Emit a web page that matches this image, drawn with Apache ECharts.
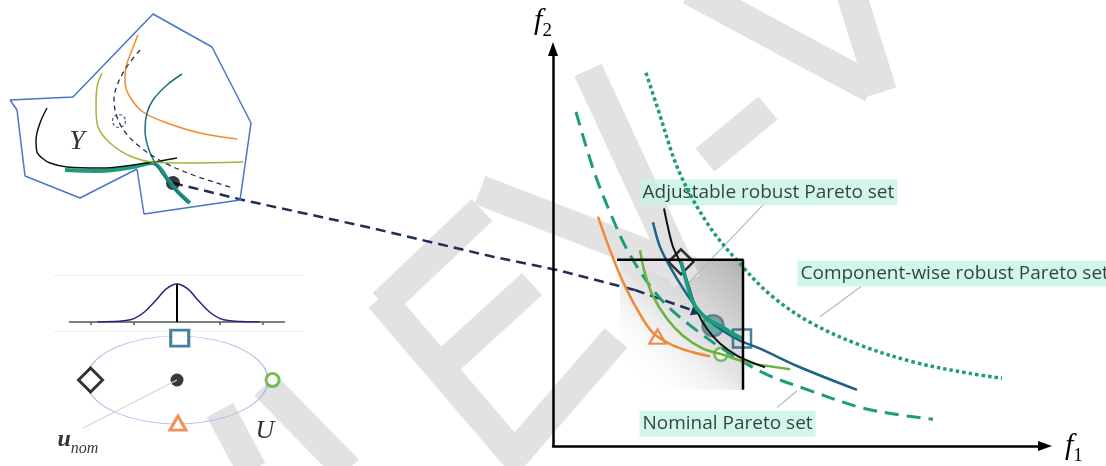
<!DOCTYPE html>
<html><head><meta charset="utf-8">
<script src="https://cdn.jsdelivr.net/npm/echarts@6/dist/echarts.min.js"></script>
<style>html,body{margin:0;padding:0;background:#fff}#c{width:1106px;height:466px}</style>
</head><body><div id="c"></div>
<script>
// ---------- main objective space (f1, f2) ----------
const componentWiseSet = [[1.86,9.24],[2.10,8.34],[2.52,6.80],[3.10,5.49],[3.74,4.51],[4.38,3.71],[5.16,3.05],[6.16,2.49],[7.24,2.07],[8.32,1.80],[8.98,1.68]];
const nominalSet = [[0.46,8.27],[0.82,6.80],[1.16,5.73],[1.54,4.73],[2.14,3.66],[2.80,2.93],[3.54,2.29],[4.26,1.78],[5.10,1.39],[6.16,0.95],[6.88,0.78],[7.60,0.66]];
const orangeFront = [[0.90,5.68],[1.14,4.85],[1.38,4.12],[1.68,3.39],[2.00,2.80],[2.40,2.49],[2.80,2.32],[3.14,2.22]];
const greenFront = [[1.74,4.85],[1.84,4.27],[2.00,3.71],[2.28,3.15],[2.60,2.73],[3.00,2.41],[3.38,2.27],[3.88,2.07],[4.74,1.90]];
const blueFront = [[2.00,5.54],[2.14,4.93],[2.34,4.44],[2.54,4.02],[2.80,3.54],[3.08,3.15],[3.34,2.90],[3.74,2.61],[4.14,2.41],[4.94,1.95],[6.08,1.39]];
const blackFront = [[2.22,5.88],[2.30,5.41],[2.40,4.93],[2.54,4.56],[2.70,4.02],[2.88,3.34],[3.08,2.90],[3.34,2.54],[3.68,2.24],[3.98,2.07],[4.24,1.95]];
const adjustableSet = [[2.56,4.56],[2.68,4.02],[2.78,3.63],[2.88,3.39],[3.08,3.15],[3.34,2.98],[3.60,2.78],[3.78,2.66]];
const boxCorner = [3.80, 4.61];
const boxLeft = 1.28, boxBottom = 1.39;
const diamondPt = [2.56,4.56], squarePt = [3.78,2.66], greenPt = [3.36,2.27], trianglePt = [2.09,2.71], nominalPt = [3.20,2.98];
const labelTexts = ['Adjustable robust Pareto set','Component-wise robust Pareto set','Nominal Pareto set'];
const labelPos = [[1.72,6.28],[4.88,4.27],[1.72,0.55]];
const leaderLines = [[[4.24,6.02],[2.70,4.02]],[[6.16,3.95],[5.34,3.20]],[[4.88,1.37],[4.48,0.95]]];

// ---------- decision space Y (canvas-scaled coordinates) ----------
const yPolygon = [[10,100],[73,97],[153,14],[212,47],[251,123],[240,200],[144,214],[137,169],[80,198],[25,176],[17,110],[10,100]];
const yBlack = [[47,108],[40,123],[36,140],[37,152],[42,158],[50,163],[67,167],[100,168],[140,164],[177,158]];
const yTealThick = [[65,170],[100,171],[133,167],[152,163],[160,168],[168,180],[178,192],[190,203]];
const yTealThin = [[182,74],[167,85],[153,100],[147,113],[145,130],[148,147],[155,163],[167,180],[188,203]];
const yGreen = [[102,73],[97,87],[96,107],[98,127],[110,143],[130,156],[153,162],[187,163],[243,162]];
const yOrange = [[138,35],[132,50],[126,67],[125,82],[130,97],[143,112],[167,123],[200,133],[237,139]];
const yDashed = [[140,50],[128,65],[118,83],[114,100],[117,117],[125,132],[140,147],[163,162],[193,175],[233,188]];
const yDashedCircle = [119,121];
const yPoint = [173,183];
const connectorPath = [[173,183],[243,200],[367,227],[494,257],[557,270],[635,290]];
const connectorEnd = [[635,290],[697,312]];
const panelRules = [[[53,275],[303,275]],[[53,331],[303,331]]];
const watermark = [
  [[690,-10],[872,88]], [[882,92],[850,-10]], [[705,160],[768,108]],
  [[588,70],[686,282]], [[480,190],[692,272]],
  [[380,298],[522,464]], [[383,304],[482,210]], [[440,368],[532,284]], [[512,458],[616,338]],
  [[265,385],[348,470]], [[220,410],[252,470]]
];

// ---------- uncertainty ----------
const gaussCurve = [[-3.7,0],[-3,0.01],[-2.5,0.03],[-2,0.09],[-1.5,0.27],[-1,0.56],[-0.5,0.87],[0,1],[0.5,0.87],[1,0.56],[1.5,0.27],[2,0.09],[2.5,0.03],[3,0.01],[3.85,0]];
const gaussTicks = [-4,-2,2,4];
const gaussCenter = [[0,0],[0,1]];
const uSquare = [0.03,0.95], uDiamond = [-0.95,0.0], uCircle = [1.05,0.0], uTriangle = [0.01,-0.98], uNom = [0,0];
const uLeader = [[0,0],[-1.03,-1.09]];

// ---------- colours ----------
const C = {teal:'#1d9c7c', navy:'#1f2f55', orange:'#ef8a34', green:'#6ab43e', blue:'#1c6285', black:'#111',
  yGreen:'#9bb83c', yBlue:'#1f6e80', poly:'#4876c8', leader:'#a9bccf', mint:'#c6f4e6', wm:'#e2e2e2'};

const serif = 'Liberation Serif';
function line(data, gi, ls, extra) {
  return Object.assign({type:'line', xAxisIndex:gi, yAxisIndex:gi, data:data, symbol:'none', silent:true,
    smooth:0.35, lineStyle:ls}, extra || {});
}

const series = [];
// watermark
series.push({type:'lines', coordinateSystem:'cartesian2d', xAxisIndex:0, yAxisIndex:0, z:1, silent:true,
  data: watermark.map(c => ({coords:c})), lineStyle:{color:C.wm, width:30, opacity:1, cap:'butt'}});
// panel rules
series.push({type:'lines', coordinateSystem:'cartesian2d', xAxisIndex:0, yAxisIndex:0, silent:true,
  data: panelRules.map(c => ({coords:c})), lineStyle:{color:'#f0f0f0', width:1, opacity:1}});
// Y panel
series.push(line(yPolygon, 0, {color:C.poly, width:1.5}, {smooth:false}));
series.push(line(yTealThick, 0, {color:C.teal, width:4}));
series.push(line(yBlack, 0, {color:C.black, width:1.5}));
series.push(line(yGreen, 0, {color:C.yGreen, width:1.5}));
series.push(line(yOrange, 0, {color:'#f5892c', width:1.5}));
series.push(line(yTealThin, 0, {color:C.yBlue, width:1.5}));
series.push(line(yDashed, 0, {color:C.navy, width:1.3, type:[5,4]}));
series.push({type:'scatter', xAxisIndex:0, yAxisIndex:0, silent:true, data:[
  {value:yDashedCircle, symbol:'circle', symbolSize:13, itemStyle:{color:'rgba(0,0,0,0)', borderColor:C.navy, borderWidth:1.2, borderType:[3,2]}},
  {value:yPoint, symbol:'circle', symbolSize:14, itemStyle:{color:'#050510'}}
]});
// main curves
series.push(line(componentWiseSet, 1, {color:C.teal, width:3.5, type:[3.5,3]}));
series.push(line(nominalSet, 1, {color:C.teal, width:3, type:[14,8]}));
series.push(line(orangeFront, 1, {color:C.orange, width:2.5}));
series.push(line(greenFront, 1, {color:C.green, width:2.5}));
series.push(line(blueFront, 1, {color:C.blue, width:2.5}));
series.push(line(blackFront, 1, {color:C.black, width:2}));
// box shading overlay
series.push({type:'line', xAxisIndex:1, yAxisIndex:1, data:[], silent:true,
  markArea:{silent:true, itemStyle:{color:{type:'linear', x:1, y:0, x2:0, y2:1, colorStops:[
    {offset:0, color:'rgba(155,155,155,0.8)'},{offset:0.5, color:'rgba(195,195,195,0.45)'},{offset:0.9, color:'rgba(255,255,255,0)'}]}},
    data:[[{coord:[boxLeft+0.06, boxCorner[1]]},{coord:[boxCorner[0], boxBottom]}]]}});
// connector
series.push({type:'lines', coordinateSystem:'cartesian2d', xAxisIndex:0, yAxisIndex:0, polyline:true, silent:true,
  data:[{coords:connectorPath}], lineStyle:{color:C.navy, width:2.5, type:[10,6], opacity:1}});
series.push({type:'lines', coordinateSystem:'cartesian2d', xAxisIndex:0, yAxisIndex:0, silent:true,
  symbol:['none','triangle'], symbolSize:11,
  data:[{coords:connectorEnd}], lineStyle:{color:C.navy, width:2.5, type:[10,6], opacity:1}});
// adjustable set & box
series.push(line(adjustableSet, 1, {color:C.teal, width:4}));
series.push(line([[boxLeft, boxCorner[1]], boxCorner, [boxCorner[0], boxBottom]], 1, {color:'#000', width:2.5}, {smooth:false}));
// leaders
series.push({type:'lines', coordinateSystem:'cartesian2d', xAxisIndex:1, yAxisIndex:1, silent:true,
  data: leaderLines.map(c => ({coords:c})), lineStyle:{color:C.leader, width:1.2, opacity:1}});
// main markers
series.push({type:'scatter', xAxisIndex:1, yAxisIndex:1, silent:true, data:[
  {value:diamondPt, symbol:'diamond', symbolSize:25, itemStyle:{color:'rgba(0,0,0,0)', borderColor:'#000', borderWidth:2.5}},
  {value:trianglePt, symbol:'triangle', symbolSize:[16,14], itemStyle:{color:'#fff', borderColor:'#ec7630', borderWidth:2.5}},
  {value:greenPt, symbol:'circle', symbolSize:13, itemStyle:{color:'#fff', borderColor:'#5aac30', borderWidth:2.5}},
  {value:nominalPt, symbol:'circle', symbolSize:21, itemStyle:{color:'#4da393', borderColor:'#5b6b8c', borderWidth:2.5}},
  {value:squarePt, symbol:'rect', symbolSize:18, itemStyle:{color:'rgba(0,0,0,0)', borderColor:C.blue, borderWidth:2.5}}
]});
// text boxes
series.push({type:'scatter', xAxisIndex:1, yAxisIndex:1, silent:true, symbolSize:1, itemStyle:{color:'rgba(0,0,0,0)'},
  data: labelPos.map((p,i) => ({value:p, label:{show:true, position:'right', distance:0, formatter:labelTexts[i],
    fontFamily:'Open Sans', fontSize:19, lineHeight:23, color:'#111', backgroundColor:C.mint, padding:[2,3,1,3]}}))});
// gaussian
series.push(line(gaussCurve, 2, {color:'#2c237f', width:1.5}, {smooth:0.4}));
series.push(line(gaussCenter, 2, {color:'#000', width:2}, {smooth:false}));
// uncertainty set U
series.push(line(uLeader, 3, {color:'#d4d4d4', width:1.2}, {smooth:false}));
series.push({type:'scatter', xAxisIndex:3, yAxisIndex:3, silent:true, clip:false, data:[
  {value:uNom, symbol:'circle', symbolSize:[182,88], itemStyle:{color:'rgba(0,0,0,0)', borderColor:'#8eaee6', borderWidth:1}},
  {value:uNom, symbol:'circle', symbolSize:13, itemStyle:{color:'#05050f'}},
  {value:uSquare, symbol:'rect', symbolSize:[18,16], itemStyle:{color:'#fff', borderColor:C.blue, borderWidth:3}},
  {value:uDiamond, symbol:'diamond', symbolSize:24, itemStyle:{color:'#fff', borderColor:'#000', borderWidth:3}},
  {value:uCircle, symbol:'circle', symbolSize:13, itemStyle:{color:'#fff', borderColor:'#5aac30', borderWidth:3}},
  {value:uTriangle, symbol:'triangle', symbolSize:[16,14], itemStyle:{color:'#fff', borderColor:'#ec7630', borderWidth:3}}
]});
// free text
series.push({type:'scatter', xAxisIndex:0, yAxisIndex:0, silent:true, symbolSize:1, itemStyle:{color:'rgba(0,0,0,0)'}, data:[
  {value:[77,142], label:{show:true, position:'inside', formatter:'Y', fontFamily:serif, fontStyle:'italic', fontSize:28, color:'#000'}},
  {value:[265,431], label:{show:true, position:'inside', formatter:'U', fontFamily:serif, fontStyle:'italic', fontSize:26, color:'#000'}},
  {value:[57,440], label:{show:true, position:'right', distance:0, formatter:'{u|u}{n|nom}', rich:{
    u:{fontFamily:serif, fontStyle:'italic', fontWeight:'bold', fontSize:24, color:'#000', lineHeight:30},
    n:{fontFamily:serif, fontStyle:'italic', fontSize:16, color:'#000', verticalAlign:'bottom', lineHeight:34}}}}
]});

const nameRich = {
  f:{fontFamily:serif, fontStyle:'italic', fontSize:30, color:'#000', lineHeight:30},
  s:{fontFamily:serif, fontSize:19, color:'#000', verticalAlign:'bottom', lineHeight:40}
};
const hidden = {show:false};
const option = {
  animation:false,
  backgroundColor:'#fff',
  grid:[
    {left:0, top:0, width:1106, height:466},
    {left:553, top:49, width:492, height:403},
    {left:69.5, top:280.2, width:215, height:41.8},
    {left:67.8, top:327.2, width:218.4, height:105.6}
  ],
  xAxis:[
    {gridIndex:0, type:'value', min:0, max:1106, show:false},
    {gridIndex:1, type:'value', min:0, max:9.84, z:3, splitLine:hidden, axisTick:hidden, axisLabel:hidden,
      axisLine:{show:true, lineStyle:{color:'#000', width:2.5}, symbol:['none','triangle'], symbolSize:[10,14]},
      name:'{f|f}{s|1}', nameLocation:'end', nameGap:20, nameTextStyle:{rich:nameRich}},
    {gridIndex:2, type:'value', min:-5, max:5, splitLine:hidden, axisLabel:hidden,
      axisLine:{show:true, lineStyle:{color:'#555', width:1.5}},
      axisTick:{show:true, customValues:gaussTicks, length:3, lineStyle:{color:'#555', width:1.5}}},
    {gridIndex:3, type:'value', min:-1.2, max:1.2, show:false}
  ],
  yAxis:[
    {gridIndex:0, type:'value', min:0, max:466, inverse:true, show:false},
    {gridIndex:1, type:'value', min:0, max:9.83, z:3, splitLine:hidden, axisTick:hidden, axisLabel:hidden,
      axisLine:{show:true, lineStyle:{color:'#000', width:2.5}, symbol:['none','triangle'], symbolSize:[10,14]},
      name:'{f|f}{s|2}', nameLocation:'end', nameGap:8, nameTextStyle:{rich:nameRich, padding:[0,20,0,0]}},
    {gridIndex:2, type:'value', min:0, max:1.1, show:false},
    {gridIndex:3, type:'value', min:-1.2, max:1.2, show:false}
  ],
  series: series
};
const chart = echarts.init(document.getElementById('c'), null, {renderer:'canvas'});
chart.setOption(option);
</script>
</body></html>
